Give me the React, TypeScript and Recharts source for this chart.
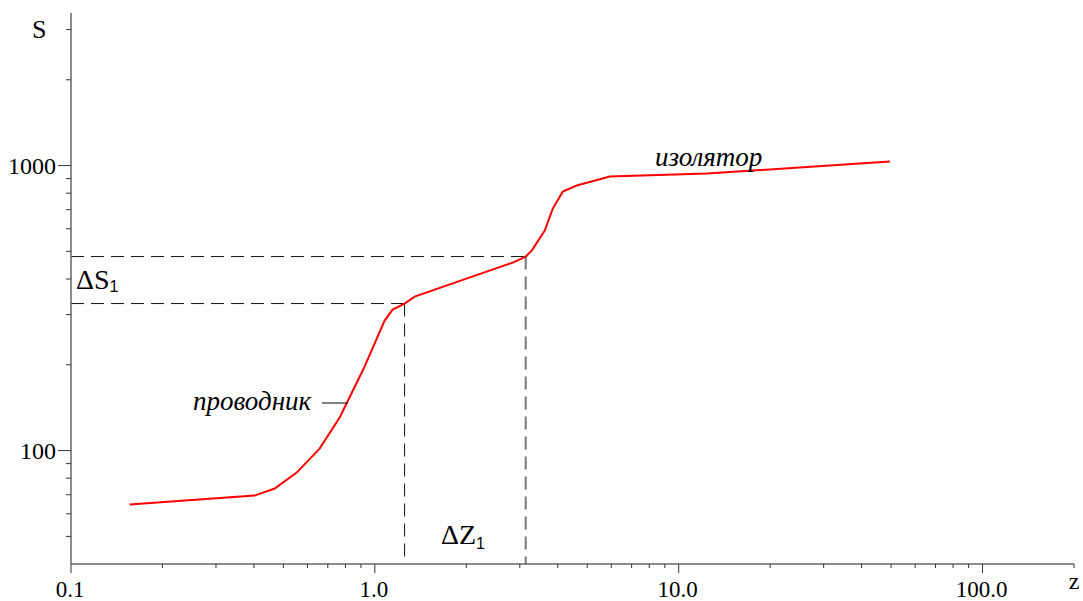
import React from 'react';
import { LineChart, Line, XAxis, YAxis, ReferenceLine } from 'recharts';

// z (x axis) and S (y axis), log-log
const zValues = [0.156, 0.402, 0.468, 0.553, 0.658, 0.766, 0.919, 1.077, 1.144, 1.253, 1.352, 2.843, 3.137, 3.284, 3.624, 3.851, 4.154, 4.618, 5.932, 12.38, 49.55];
const sValues = [64.7, 69.5, 73.6, 83.7, 101.6, 130.6, 194, 285.8, 312.4, 328, 347, 456.6, 479.4, 503, 591, 706.6, 810, 850.8, 915, 937, 1033];

const xTicks = [0.1, 0.2, 0.3, 0.4, 0.5, 0.6, 0.7, 0.8, 0.9, 1, 2, 3, 4, 5, 6, 7, 8, 9, 10, 20, 30, 40, 50, 60, 70, 80, 90, 100, 200];
const xMajor = [0.1, 1, 10, 100];
const yTicks = [50, 60, 70, 80, 90, 100, 200, 300, 400, 500, 600, 700, 800, 900, 1000, 2000, 3000];
const yMajor = [100, 1000];

// indexes of the two points marked with dashed guides
const leftMark = 9;
const rightMark = 12;

const data = zValues.map((z, i) => ({ z, s: sValues[i] }));

const serif = { fontFamily: 'Liberation Serif' };
const sans = { fontFamily: 'Liberation Sans' };
const AXIS = '#666';

const XTick = (props: any) => {
  const { x, y, payload } = props;
  const major = xMajor.includes(payload.value);
  return (
    <g>
      <line x1={x} x2={x} y1={y} y2={y + (major ? 9 : 4)} stroke="#333" />
      {major && (
        <text x={x - 1} y={y + 33} textAnchor="middle" style={serif} fontSize={23} fill="#000">
          {payload.value.toFixed(1)}
        </text>
      )}
    </g>
  );
};

const YTick = (props: any) => {
  const { x, y, payload } = props;
  const major = yMajor.includes(payload.value);
  return (
    <g>
      <line x1={x - (major ? 13 : 5)} x2={x} y1={y} y2={y} stroke="#333" />
      {major && (
        <text x={x - 15} y={y + 8} textAnchor="end" style={serif} fontSize={24} fill="#000">
          {payload.value}
        </text>
      )}
    </g>
  );
};

export default function App() {
  const zl = zValues[leftMark];
  const sl = sValues[leftMark];
  const zr = zValues[rightMark];
  const sr = sValues[rightMark];

  return (
    <div style={{ position: 'absolute', left: 0, top: 0, width: 1083, height: 601, background: '#fff' }}>
      <LineChart width={1083} height={601} data={data} margin={{ top: 13, right: 9, bottom: 0, left: 0 }}>
        <XAxis
          dataKey="z"
          type="number"
          scale="log"
          domain={[0.1, 200]}
          allowDataOverflow
          ticks={xTicks}
          interval={0}
          tick={<XTick />}
          tickSize={0}
          tickMargin={0}
          height={37}
          axisLine={{ stroke: AXIS, strokeWidth: 1.5 }}
        />
        <YAxis
          type="number"
          scale="log"
          domain={[40, 3430]}
          allowDataOverflow
          ticks={yTicks}
          interval={0}
          tick={<YTick />}
          tickSize={0}
          tickMargin={0}
          width={71}
          axisLine={{ stroke: AXIS, strokeWidth: 1.5 }}
        />
        <ReferenceLine segment={[{ x: 0.1, y: sl }, { x: zl, y: sl }]} stroke="#111" strokeDasharray="13 7" />
        <ReferenceLine segment={[{ x: zl, y: sl }, { x: zl, y: 40 }]} stroke="#111" strokeDasharray="13 7" />
        <ReferenceLine segment={[{ x: 0.1, y: sr }, { x: zr, y: sr }]} stroke="#111" strokeDasharray="13 7" />
        <ReferenceLine segment={[{ x: zr, y: sr }, { x: zr, y: 40 }]} stroke="#777" strokeWidth={2} strokeDasharray="13 7" />
        <Line
          dataKey="s"
          type="linear"
          stroke="#ff0000"
          strokeWidth={2}
          dot={false}
          isAnimationActive={false}
        />
      </LineChart>
      <svg width={1083} height={601} style={{ position: 'absolute', left: 0, top: 0, pointerEvents: 'none' }}>
        <text x={32} y={38} style={serif} fontSize={26} fill="#000">S</text>
        <text x={1074} y={589} textAnchor="middle" style={serif} fontSize={24} fill="#000">z</text>
        <text x={76} y={289} style={serif} fontSize={28} fill="#000">
          ΔS
          <tspan style={sans} fontSize={16} dy={3}>1</tspan>
        </text>
        <text x={441} y={544} style={serif} fontSize={28} fill="#000">
          ΔZ
          <tspan style={sans} fontSize={16} dy={5}>1</tspan>
        </text>
        <text x={193} y={410} style={serif} fontStyle="italic" fontSize={27} fill="#000">проводник</text>
        <line x1={322} x2={348} y1={403} y2={403} stroke="#000" />
        <text x={655} y={166} style={serif} fontStyle="italic" fontSize={27} fill="#000">изолятор</text>
      </svg>
    </div>
  );
}
